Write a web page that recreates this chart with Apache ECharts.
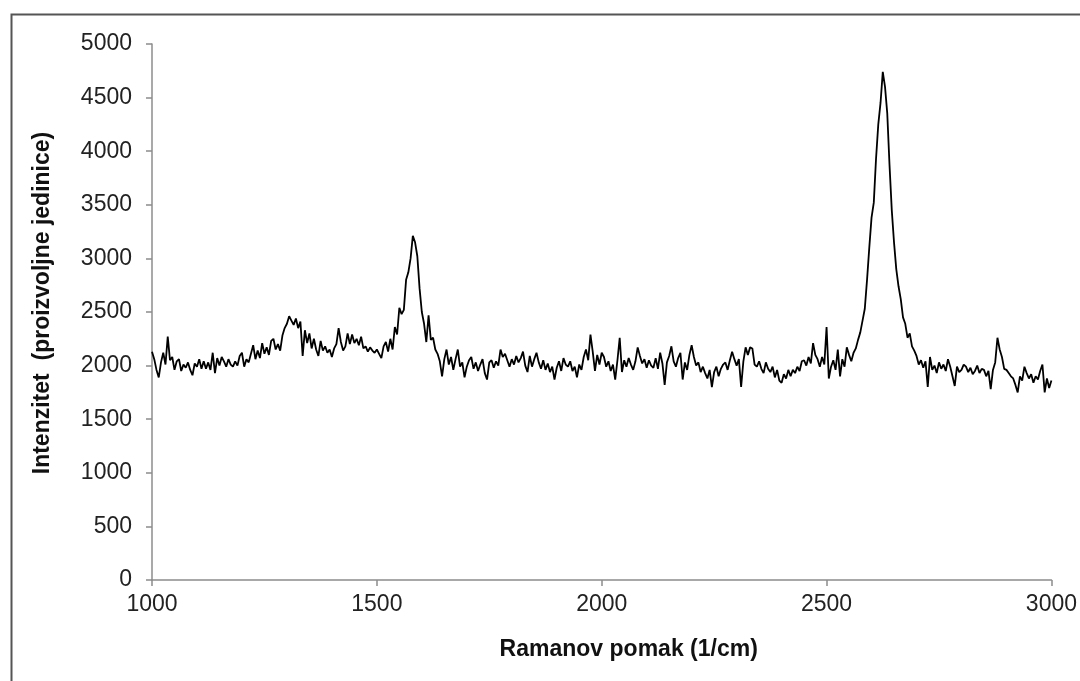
<!DOCTYPE html>
<html>
<head>
<meta charset="utf-8">
<script src="https://cdn.jsdelivr.net/npm/echarts@6/dist/echarts.min.js"></script>
<style>
html,body{margin:0;padding:0;background:#fff;}
#chart{width:1080px;height:681px;}
</style>
</head>
<body>
<div id="chart"></div>
<script>
// Raman shift sampling grid (1/cm)
const shiftStart = 1000;
const shiftStep = 5;
// Intensity (arbitrary units), one value per 5 1/cm
const intensity = [
  // 1000-1095
  2130,2060,1960,1890,2030,2120,2010,2270,2050,2080,1960,2040,2060,1950,2010,1980,2030,1960,1910,2020,
  // 1100-1195
  1990,2060,1970,2040,1970,2030,1960,2120,1930,2070,2000,2080,2040,1990,2060,2010,1990,2040,2000,2090,
  // 1200-1295
  2120,1990,2060,2030,2110,2190,2060,2140,2070,2210,2110,2170,2100,2230,2250,2150,2200,2140,2280,2350,
  // 1300-1395
  2390,2460,2420,2380,2440,2350,2410,2090,2330,2210,2300,2160,2250,2150,2090,2230,2140,2180,2120,2150,
  // 1400-1495
  2080,2160,2200,2350,2220,2140,2180,2300,2200,2290,2210,2250,2190,2270,2160,2180,2130,2170,2140,2120,
  // 1500-1595
  2150,2110,2070,2180,2220,2130,2250,2150,2360,2290,2540,2480,2520,2800,2870,3000,3210,3150,3020,2720,
  // 1600-1695
  2500,2390,2220,2470,2240,2260,2150,2110,2040,1900,2060,2150,2010,2080,1960,2060,2150,1990,2030,1890,
  // 1700-1795
  1990,2050,2080,1970,2030,1950,2010,2060,1930,1870,2030,2050,1980,2040,2000,2150,2080,2110,2050,1990,
  // 1800-1895
  2060,2010,2090,2030,2070,2130,2000,1940,2090,1990,2060,2120,2030,1970,2050,1960,2020,1940,1990,1870,
  // 1900-1995
  1980,2040,1950,2070,2010,1990,2040,1950,1990,1890,2010,1960,2080,2150,2050,2290,2130,1950,2100,2010,
  // 2000-2095
  2120,2080,1990,2040,1950,2010,1870,2050,2260,1940,2050,1990,2070,2010,1960,2040,2170,2090,2020,2060,
  // 2100-2195
  1980,2050,2000,1980,2070,1970,2120,2020,1820,2030,2090,2180,2040,1990,2070,2120,1870,2030,1960,2100,
  // 2200-2295
  2190,2080,2000,2030,1940,1990,1930,1880,1960,1800,1940,1990,1900,1970,2010,2030,1960,2050,2130,2060,
  // 2300-2395
  2000,2060,1800,2040,2170,2100,2170,2160,2010,1990,2040,1970,1930,2030,1970,1940,1990,1890,1960,1860,
  // 2400-2495
  1840,1920,1880,1960,1900,1960,1930,1990,1950,2040,2050,2000,2080,2020,2210,2100,2060,1990,2080,2010,
  // 2500-2595
  2360,1880,1990,2050,1960,2150,1900,2060,1990,2170,2100,2040,2120,2160,2240,2310,2420,2530,2800,3100,
  // 2600-2695
  3380,3520,3930,4250,4450,4740,4600,4350,3870,3450,3150,2900,2740,2620,2450,2390,2260,2300,2180,2140,
  // 2700-2795
  2090,2010,2050,1980,2040,1800,2080,1960,2000,1930,2030,1970,2010,1950,2060,1990,1900,1810,1990,1940,
  // 2800-2895
  1960,2010,1990,1940,1980,1920,1950,2000,1930,1970,1960,1900,1950,1780,1960,2030,2260,2150,2080,1970,
  // 2900-3000
  1960,1930,1900,1880,1820,1750,1900,1860,1990,1930,1880,1920,1840,1900,1870,1950,2010,1750,1880,1790,1860
];
const xTicks = [1000, 1500, 2000, 2500, 3000];
const yTicks = [0, 500, 1000, 1500, 2000, 2500, 3000, 3500, 4000, 4500, 5000];
const xTitle = 'Ramanov pomak (1/cm)';
const yTitle = 'Intenzitet  (proizvoljne jedinice)';

const seriesData = intensity.map((v, i) => [shiftStart + i * shiftStep, v]);

const chart = echarts.init(document.getElementById('chart'), null, {renderer: 'canvas'});
const font = '"Liberation Sans", Arial, sans-serif';
chart.setOption({
  animation: false,
  backgroundColor: '#ffffff',
  grid: {left: 152, right: 28, top: 44, bottom: 101, containLabel: false},
  graphic: [{
    type: 'rect',
    left: 9, top: 12,
    shape: {width: 1100, height: 720},
    style: {fill: 'none', stroke: '#555555', lineWidth: 2},
    silent: true
  }],
  xAxis: {
    type: 'value',
    min: xTicks[0], max: xTicks[xTicks.length - 1], interval: 500,
    name: xTitle,
    nameLocation: 'middle',
    nameGap: 58,
    nameTextStyle: {fontFamily: font, fontSize: 23, fontWeight: 'bold', color: '#111', padding: [0, 0, 0, 54]},
    axisLine: {show: true, onZero: false, lineStyle: {color: '#8c8c8c', width: 1.5}},
    axisTick: {show: true, inside: false, length: 6, lineStyle: {color: '#8c8c8c', width: 1.5}},
    axisLabel: {fontFamily: font, fontSize: 23, color: '#222', margin: 13, formatter: v => String(v)},
    splitLine: {show: false}
  },
  yAxis: {
    type: 'value',
    min: yTicks[0], max: yTicks[yTicks.length - 1], interval: 500,
    name: yTitle,
    nameLocation: 'middle',
    nameGap: 98,
    nameTextStyle: {fontFamily: font, fontSize: 23, fontWeight: 'bold', color: '#111', padding: [0, 0, 0, 18]},
    axisLine: {show: true, lineStyle: {color: '#8c8c8c', width: 1.5}},
    axisTick: {show: true, inside: false, length: 6, lineStyle: {color: '#8c8c8c', width: 1.5}},
    axisLabel: {fontFamily: font, fontSize: 23, color: '#222', margin: 20, formatter: v => String(v)},
    splitLine: {show: false}
  },
  series: [{
    type: 'line',
    data: seriesData,
    showSymbol: false,
    symbol: 'none',
    lineStyle: {color: '#000000', width: 1.8},
    z: 3
  }]
});
</script>
</body>
</html>
